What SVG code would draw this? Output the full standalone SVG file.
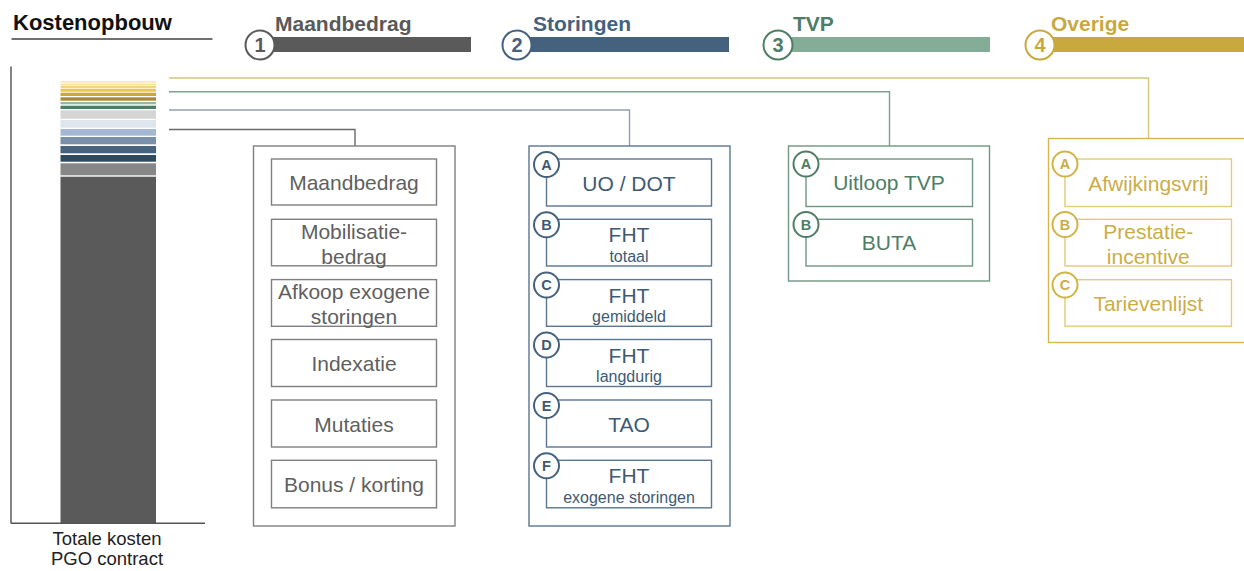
<svg xmlns="http://www.w3.org/2000/svg" width="1244" height="571" viewBox="0 0 1244 571">
<style>
text{font-family:"Liberation Sans",Arial,sans-serif}
.hd{font-size:21px;font-weight:bold}
.t{font-size:21px;text-anchor:middle}
.s{font-size:16px;text-anchor:middle}
.ct{font-size:20px;font-weight:bold;text-anchor:middle}
.cl{font-size:14.5px;font-weight:bold;text-anchor:middle}
.g1 rect{fill:none;stroke:#7f7f7f;stroke-width:1.4}
.g1 text{fill:#5f5f5f}
.g2 rect{fill:none;stroke:#5a7690;stroke-width:1.4}
.g2 text{fill:#3d5a74}
.g2 circle{fill:#fff;stroke:#44627e;stroke-width:2}
.g3 rect{fill:none;stroke:#6f9684;stroke-width:1.4}
.g3 text{fill:#4e7d65}
.g3 circle{fill:#fff;stroke:#4e7d65;stroke-width:2}
.g4 rect{fill:none;stroke:#e3cb78;stroke-width:1.4}
.g4 rect.o{stroke:#d6b64a}
.g4 text{fill:#cbad45}
.g4 circle{fill:#fff;stroke:#d2b445;stroke-width:2}
.conn polyline{fill:none;stroke-width:1.4}
</style>

<g id="title">
<text x="13" y="29.5" style="font-size:22px;font-weight:bold" fill="#111">Kostenopbouw</text>
<line x1="11.5" y1="39" x2="212.5" y2="39" stroke="#404040" stroke-width="1.4"/>
</g>

<g id="chart">
<line x1="11" y1="66.5" x2="11" y2="523.5" stroke="#666" stroke-width="1.6"/>
<rect x="60.5" y="81" width="95.5" height="2" fill="#fbecc0"/>
<rect x="60.5" y="83.7" width="95.5" height="1.8" fill="#f7e29a"/>
<rect x="60.5" y="86" width="95.5" height="2" fill="#f2d776"/>
<rect x="60.5" y="88.7" width="95.5" height="3" fill="#e8c84a"/>
<rect x="60.5" y="92.7" width="95.5" height="3.3" fill="#c9a93e"/>
<rect x="60.5" y="97.3" width="95.5" height="3.4" fill="#ab8a36"/>
<rect x="60.5" y="102" width="95.5" height="2.3" fill="#93b9a6"/>
<rect x="60.5" y="105.7" width="95.5" height="3.3" fill="#4f7d66"/>
<rect x="60.5" y="110.3" width="95.5" height="8.4" fill="#d5d5d5"/>
<rect x="60.5" y="120" width="95.5" height="7.7" fill="#dde6ec"/>
<rect x="60.5" y="129" width="95.5" height="6.7" fill="#a3b8d1"/>
<rect x="60.5" y="137" width="95.5" height="7.3" fill="#7990ab"/>
<rect x="60.5" y="146" width="95.5" height="7.3" fill="#46627e"/>
<rect x="60.5" y="155" width="95.5" height="6.7" fill="#2e4a5f"/>
<rect x="60.5" y="163.3" width="95.5" height="12" fill="#878787"/>
<rect x="60.5" y="176.7" width="95.5" height="346.6" fill="#5a5a5a"/>
<line x1="11" y1="523.3" x2="205" y2="523.3" stroke="#555" stroke-width="1.6"/>
<text x="107" y="545" style="font-size:18.5px;text-anchor:middle" fill="#222">Totale kosten</text>
<text x="107" y="565" style="font-size:18.5px;text-anchor:middle" fill="#222">PGO contract</text>
</g>

<g id="header1">
<rect x="262" y="37" width="209" height="15" fill="#5a5a5a"/>
<circle cx="260" cy="45" r="14.5" fill="#fff" stroke="#5a5a5a" stroke-width="2"/>
<text x="260" y="52" class="ct" fill="#5a5a5a">1</text>
<text x="275" y="30.5" class="hd" fill="#595959">Maandbedrag</text>
</g>
<g id="header2">
<rect x="520" y="37" width="209" height="15" fill="#44627e"/>
<circle cx="517" cy="45" r="14.5" fill="#fff" stroke="#44627e" stroke-width="2"/>
<text x="517" y="52" class="ct" fill="#44627e">2</text>
<text x="533" y="30.5" class="hd" fill="#44627e">Storingen</text>
</g>
<g id="header3">
<rect x="781" y="37" width="209" height="15" fill="#84ad98"/>
<circle cx="778" cy="45" r="14.5" fill="#fff" stroke="#4e7d65" stroke-width="2"/>
<text x="778" y="52" class="ct" fill="#4e7d65">3</text>
<text x="793" y="30.5" class="hd" fill="#4e7d65">TVP</text>
</g>
<g id="header4">
<rect x="1043" y="37" width="205" height="15" fill="#c8a93e"/>
<circle cx="1040" cy="45" r="14.5" fill="#fff" stroke="#c8a93e" stroke-width="2"/>
<text x="1040" y="52" class="ct" fill="#c8a93e">4</text>
<text x="1051" y="30.5" class="hd" fill="#c8a93e">Overige</text>
</g>

<g id="connectors" class="conn">
<polyline points="169,129.5 355,129.5 355,146" stroke="#6a6a6a"/>
<polyline points="169,110 629.5,110 629.5,146" stroke="#8ea0b3"/>
<polyline points="169,91.7 889.5,91.7 889.5,146" stroke="#7ea08f"/>
<polyline points="169,78 1148.5,78 1148.5,138.5" stroke="#d8c37b"/>
</g>

<g id="group-maandbedrag" class="g1">
<rect x="253.5" y="146" width="201.5" height="380"/>
<rect x="271.5" y="159" width="165" height="46"/>
<text x="354" y="190" class="t">Maandbedrag</text>
<rect x="271.5" y="219.3" width="165" height="46.5"/>
<text x="354" y="239" class="t">Mobilisatie-</text>
<text x="354" y="263.5" class="t">bedrag</text>
<rect x="271.5" y="279.6" width="165" height="46.7"/>
<text x="354" y="298.5" class="t">Afkoop exogene</text>
<text x="354" y="324" class="t">storingen</text>
<rect x="271.5" y="339.5" width="165" height="47"/>
<text x="354" y="371" class="t">Indexatie</text>
<rect x="271.5" y="400" width="165" height="47"/>
<text x="354" y="431.5" class="t">Mutaties</text>
<rect x="271.5" y="460.3" width="165" height="47.5"/>
<text x="354" y="492" class="t">Bonus / korting</text>
</g>

<g id="group-storingen" class="g2">
<rect x="529" y="146" width="201" height="380"/>
<rect x="546.5" y="159" width="165" height="47"/>
<text x="629" y="190.5" class="t">UO / DOT</text>
<rect x="546.5" y="219.3" width="165" height="46.7"/>
<text x="629" y="242" class="t">FHT</text>
<text x="629" y="261.5" class="s">totaal</text>
<rect x="546.5" y="279.6" width="165" height="46.7"/>
<text x="629" y="302.5" class="t">FHT</text>
<text x="629" y="322" class="s">gemiddeld</text>
<rect x="546.5" y="339.5" width="165" height="47"/>
<text x="629" y="362.5" class="t">FHT</text>
<text x="629" y="382" class="s">langdurig</text>
<rect x="546.5" y="400" width="165" height="47"/>
<text x="629" y="432" class="t">TAO</text>
<rect x="546.5" y="460.3" width="165" height="47.5"/>
<text x="629" y="483" class="t">FHT</text>
<text x="629" y="502.5" class="s">exogene storingen</text>
<circle cx="546.5" cy="164.5" r="12.5"/><text x="546.5" y="169.7" class="cl">A</text>
<circle cx="546.5" cy="224.8" r="12.5"/><text x="546.5" y="230" class="cl">B</text>
<circle cx="546.5" cy="285" r="12.5"/><text x="546.5" y="290.2" class="cl">C</text>
<circle cx="546.5" cy="345" r="12.5"/><text x="546.5" y="350.2" class="cl">D</text>
<circle cx="546.5" cy="405.5" r="12.5"/><text x="546.5" y="410.7" class="cl">E</text>
<circle cx="546.5" cy="465.8" r="12.5"/><text x="546.5" y="471" class="cl">F</text>
</g>

<g id="group-tvp" class="g3">
<rect x="788.5" y="146" width="201" height="135"/>
<rect x="806" y="159" width="166.5" height="47.5"/>
<text x="889" y="190" class="t">Uitloop TVP</text>
<rect x="806" y="219.3" width="166.5" height="46.7"/>
<text x="889" y="250" class="t">BUTA</text>
<circle cx="806" cy="164" r="12.5"/><text x="806" y="169.2" class="cl">A</text>
<circle cx="806" cy="224.5" r="12.5"/><text x="806" y="229.7" class="cl">B</text>
</g>

<g id="group-overige" class="g4">
<rect class="o" x="1048.5" y="138.5" width="210" height="204"/>
<rect x="1065" y="159" width="166.5" height="47.5"/>
<text x="1148.3" y="191" class="t">Afwijkingsvrij</text>
<rect x="1065" y="219.3" width="166.5" height="46.7"/>
<text x="1148.3" y="239.3" class="t">Prestatie-</text>
<text x="1148.3" y="263.5" class="t">incentive</text>
<rect x="1065" y="279.7" width="166.5" height="46.5"/>
<text x="1148.3" y="311" class="t">Tarievenlijst</text>
<circle cx="1065" cy="164" r="12.5"/><text x="1065" y="169.2" class="cl">A</text>
<circle cx="1065" cy="224.5" r="12.5"/><text x="1065" y="229.7" class="cl">B</text>
<circle cx="1065" cy="285" r="12.5"/><text x="1065" y="290.2" class="cl">C</text>
</g>
</svg>
